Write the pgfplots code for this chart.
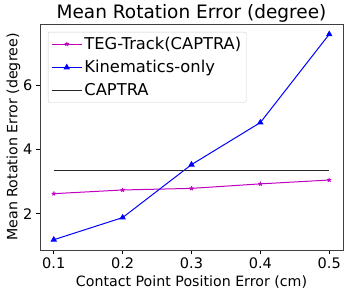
\documentclass[border=0pt]{standalone}
\usepackage{fontspec}
\setmainfont{DejaVu Sans}
\usepackage{pgfplots}
\pgfplotsset{compat=1.18}
\definecolor{mplm}{rgb}{0.75,0,0.75}
\pgfplotsset{every axis title/.style={at={(0.5,1)}, anchor=base, inner sep=0pt, yshift=5pt}}
\begin{document}
\begin{tikzpicture}
\begin{axis}[
  name=ax,
  scale only axis,
  width=303pt, height=226pt,
  xmin=0.08, xmax=0.52, ymin=0.87, ymax=7.91,
  xtick={0.1,0.2,0.3,0.4,0.5},
  xticklabels={0.1,0.2,0.3,0.4,0.5},
  ytick={2,4,6},
  /pgf/number format/assume math mode=true,
  ticklabel style={font=\fontsize{14.5}{16}\selectfont},
  tick align=outside,
  tick style={black, line width=0.6pt},
  major tick length=4pt,
  xtick pos=bottom, ytick pos=left,
  axis line style={black!75, line width=0.8pt},
  title={Mean Rotation Error (degree)},
  title style={font=\fontsize{18.5}{20}\selectfont},
  xlabel={Contact Point Position Error (cm)},
  ylabel={Mean Rotation Error (degree)},
  label style={font=\fontsize{14.2}{15}\selectfont},
  xlabel style={at={(axis description cs:0.5,-0.1416)}, anchor=center},
  ylabel style={at={(axis description cs:-0.0875,0.5)}, anchor=center},
  legend cell align=left,
  legend style={font=\fontsize{16.3}{18}\selectfont, draw=black!20, rounded corners=2pt, at={(axis description cs:0.026,0.965)}, anchor=north west, row sep=5.5pt, inner sep=3pt},
  legend image code/.code={\draw[mark repeat=2,mark phase=2,#1] plot coordinates {(0cm,0cm) (0.53cm,0cm) (1.06cm,0cm)};},
]
\addplot[mplm, line width=1pt, mark=star, mark size=2.2pt] coordinates {
 (0.1,2.625) (0.2,2.74) (0.3,2.79) (0.4,2.93) (0.5,3.05)};
\addlegendentry{TEG-Track(CAPTRA)}
\addplot[blue, line width=1pt, mark=triangle*, mark size=2.8pt] coordinates {
 (0.1,1.19) (0.2,1.88) (0.3,3.53) (0.4,4.84) (0.5,7.59)};
\addlegendentry{Kinematics-only}
\addplot[black!85, line width=1.2pt] coordinates {(0.1,3.34) (0.5,3.34)};
\addlegendentry{CAPTRA}
\end{axis}
\pgfresetboundingbox
\useasboundingbox ([shift={(-40pt,-46pt)}]ax.south west) rectangle ([shift={(6pt,24pt)}]ax.north east);
\end{tikzpicture}
\end{document}
